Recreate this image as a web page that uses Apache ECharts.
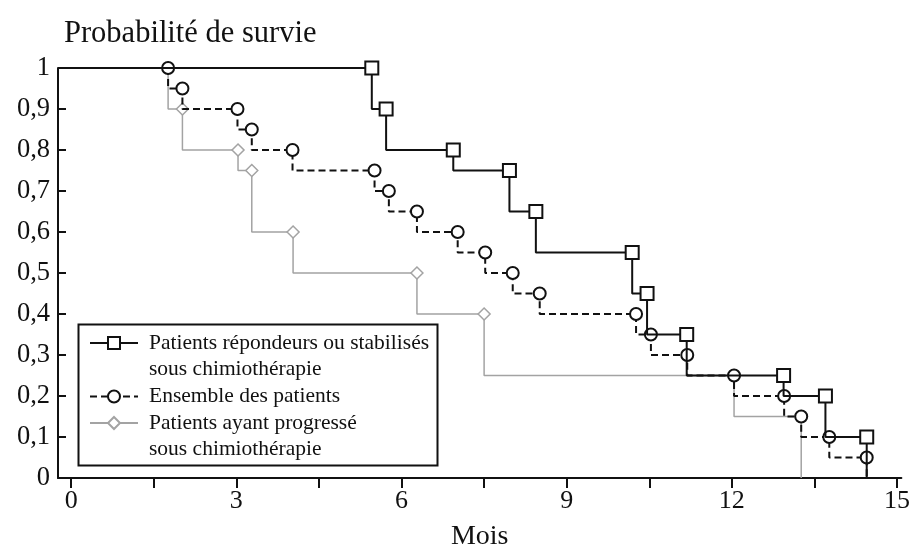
<!DOCTYPE html>
<html>
<head>
<meta charset="utf-8">
<script src="https://cdn.jsdelivr.net/npm/echarts@6/dist/echarts.min.js"></script>
<style>
html,body{margin:0;padding:0;background:#fff;}
#chart{width:913px;height:558px;}
</style>
</head>
<body>
<div id="chart"></div>
<script>
// Patients répondeurs ou stabilisés (squares)
const respTimes = [5.46, 5.72, 6.94, 7.96, 8.44, 10.19, 10.46, 11.18, 12.94, 13.70, 14.45];
const respSurv  = [1.0, 0.9, 0.8, 0.75, 0.65, 0.55, 0.45, 0.35, 0.25, 0.2, 0.1];
// Ensemble des patients (circles)
const allTimes = [1.76, 2.02, 3.02, 3.28, 4.02, 5.51, 5.77, 6.28, 7.02, 7.52, 8.02, 8.51, 10.26, 10.53, 11.19, 12.04, 12.95, 13.26, 13.77, 14.45];
const allSurv  = [1.0, 0.95, 0.9, 0.85, 0.8, 0.75, 0.7, 0.65, 0.6, 0.55, 0.5, 0.45, 0.4, 0.35, 0.3, 0.25, 0.2, 0.15, 0.1, 0.05];
// Patients ayant progressé (diamonds)
const progTimes = [1.76, 2.02, 3.03, 3.28, 4.03, 6.28, 7.50, 12.04, 13.26];
const progSurv  = [1.0, 0.9, 0.8, 0.75, 0.6, 0.5, 0.4, 0.25, 0.15];

const xTicks = [0, 1.5, 3, 4.5, 6, 7.5, 9, 10.5, 12, 13.5, 15];
const xLabels = [0, 3, 6, 9, 12, 15];

const names = [
  'Patients répondeurs ou stabilisés\nsous chimiothérapie',
  'Ensemble des patients',
  'Patients ayant progressé\nsous chimiothérapie'
];

const X_MIN = -0.24, X_MAX = 15.08;

function kmData(times, surv) {
  const d = [{value: [X_MIN, 1], symbol: 'none'}];
  for (let i = 0; i < times.length; i++) d.push([times[i], surv[i]]);
  d.push({value: [times[times.length - 1], 0], symbol: 'none'});
  return d;
}

const FONT = 'Liberation Serif';
const LH = 26.5;
const legendCenters = [343, 396.5, 423];

function legendFor(i) {
  const twoLine = names[i].indexOf('\n') >= 0;
  return {
    orient: 'vertical', left: 89,
    top: legendCenters[i] - (twoLine ? 1.5 : 0.5) * LH,
    padding: 0, itemGap: 0, itemWidth: 48, itemHeight: 15, align: 'left',
    textStyle: {fontFamily: FONT, fontSize: 21.5, color: '#111', lineHeight: LH, padding: [0, 0, 0, 6]},
    formatter: n => (n.indexOf('\n') >= 0 ? '\n' + n : n),
    data: [names[i]]
  };
}

const chart = echarts.init(document.getElementById('chart'), null, {renderer: 'canvas'});
chart.setOption({
  animation: false,
  backgroundColor: '#fff',
  title: {
    text: 'Probabilité de survie',
    left: 59, top: 13,
    textStyle: {fontFamily: FONT, fontSize: 30.5, fontWeight: 'normal', color: '#111'}
  },
  grid: {left: 58, top: 68, width: 845, height: 410, containLabel: false},
  xAxis: {
    type: 'value', min: X_MIN, max: X_MAX,
    name: 'Mois', nameLocation: 'middle', nameGap: 45,
    nameTextStyle: {fontFamily: FONT, fontSize: 28, color: '#111'},
    axisLine: {show: true, onZero: false, lineStyle: {color: '#111', width: 2}},
    axisTick: {show: true, inside: false, length: 10, lineStyle: {color: '#111', width: 2}, customValues: xTicks},
    axisLabel: {show: true, margin: 10, fontFamily: FONT, fontSize: 26, color: '#111', customValues: xLabels},
    splitLine: {show: false}
  },
  yAxis: {
    type: 'value', min: 0, max: 1, interval: 0.1,
    axisLine: {show: true, onZero: false, lineStyle: {color: '#111', width: 2}},
    axisTick: {show: true, inside: true, length: 8, lineStyle: {color: '#111', width: 2}},
    axisLabel: {
      margin: 8, fontFamily: FONT, fontSize: 26.5, color: '#111',
      formatter: v => (v === 0 ? '0' : v === 1 ? '1' : v.toFixed(1).replace('.', ','))
    },
    splitLine: {show: false}
  },
  legend: [legendFor(0), legendFor(1), legendFor(2)],
  graphic: [{
    type: 'rect', left: 76, top: 322, silent: true,
    shape: {width: 359, height: 141},
    style: {fill: 'none', stroke: '#111', lineWidth: 2}
  }],
  series: [
    {
      name: names[2], type: 'line', step: 'start', data: kmData(progTimes, progSurv),
      symbol: 'diamond', symbolSize: 12, showAllSymbol: true,
      lineStyle: {color: '#a3a3a3', width: 1.5},
      itemStyle: {color: '#fff', borderColor: '#a3a3a3', borderWidth: 1.5},
      z: 2
    },
    {
      name: names[1], type: 'line', step: 'start', data: kmData(allTimes, allSurv),
      symbol: 'circle', symbolSize: 12, showAllSymbol: true,
      lineStyle: {color: '#111', width: 2, type: [7, 4]},
      itemStyle: {color: '#fff', borderColor: '#111', borderWidth: 2},
      z: 3
    },
    {
      name: names[0], type: 'line', step: 'start', data: kmData(respTimes, respSurv),
      symbol: 'rect', symbolSize: 13, showAllSymbol: true,
      lineStyle: {color: '#111', width: 2},
      itemStyle: {color: '#fff', borderColor: '#111', borderWidth: 2},
      z: 4
    }
  ]
});
</script>
</body>
</html>
